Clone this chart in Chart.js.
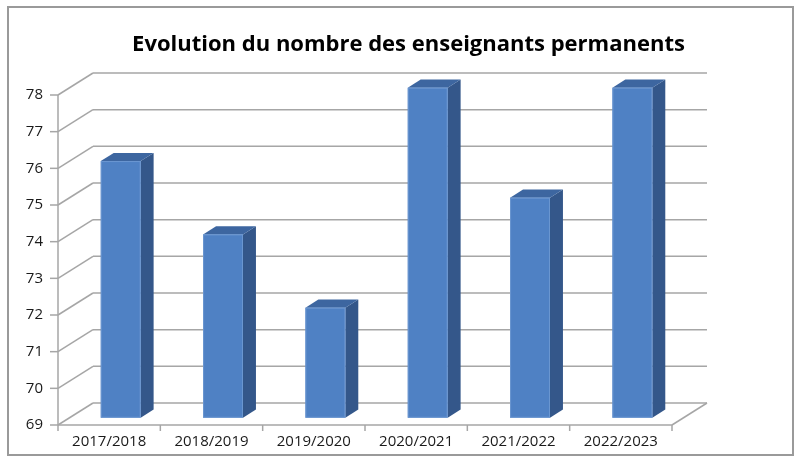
<!DOCTYPE html>
<html>
<head>
<meta charset="utf-8">
<script src="https://cdn.jsdelivr.net/npm/chart.js@4"></script>
<style>
  html, body { margin: 0; padding: 0; background: #fff; }
  #wrap { width: 809px; height: 469px; }
</style>
</head>
<body>
<div id="wrap"><canvas id="chart" width="809" height="469"></canvas></div>
<script>
// Data
const years = ['2017/2018', '2018/2019', '2019/2020', '2020/2021', '2021/2022', '2022/2023'];
const teachers = [76, 74, 72, 78, 75, 78];
const yMin = 69;
const yMax = 78;

// 3D look (Excel style)
const DX = 35, DY = -22;          // depth offset of the back wall
const BAR_F = 0.33, BAR_B = 0.70; // bar front/back as fraction of depth
const GRID = '#a6a6a6';

function line(ctx, x1, y1, x2, y2) {
  ctx.beginPath();
  ctx.moveTo(x1, y1);
  ctx.lineTo(x2, y2);
  ctx.stroke();
}

const frame3d = {
  id: 'frame3d',
  beforeDraw(chart) {
    const ctx = chart.ctx;
    const { left, right, top, bottom } = chart.chartArea;
    const y = chart.scales.y;
    const x = chart.scales.x;
    ctx.save();
    ctx.fillStyle = '#fff';
    ctx.fillRect(0, 0, chart.width, chart.height);
    // outer border
    ctx.strokeStyle = '#9a9a9a';
    ctx.lineWidth = 2;
    ctx.strokeRect(8, 7, 785, 448);

    ctx.strokeStyle = GRID;
    ctx.lineWidth = 1.5;
    y.ticks.forEach(t => {
      const py = y.getPixelForValue(t.value);
      // back wall line
      line(ctx, left + DX, py + DY, right + DX, py + DY);
      // side wall diagonal
      line(ctx, left, py, left + DX, py + DY);
      // tick mark
      line(ctx, left - 8, py, left, py);
    });
    // floor
    line(ctx, right, bottom, right + DX, bottom + DY);
    // axes
    line(ctx, left, top, left, bottom);
    line(ctx, left, bottom, right, bottom);
    // category ticks
    const step = x.getPixelForValue(1) - x.getPixelForValue(0);
    for (let i = 0; i <= years.length; i++) {
      const px = x.getPixelForValue(0) - step / 2 + i * step;
      line(ctx, px, bottom, px, bottom + 6);
    }
    ctx.restore();
  },
  afterDatasetsDraw(chart) {
    const ctx = chart.ctx;
    const meta = chart.getDatasetMeta(0);
    const floor = chart.scales.y.getPixelForValue(yMin);
    ctx.save();
    meta.data.forEach(bar => {
      const w = bar.width;
      const x0 = bar.x - w / 2 + DX * BAR_F;
      const x1 = x0 + w;
      const yt = bar.y + DY * BAR_F;
      const yb = floor + DY * BAR_F;
      const ox = DX * (BAR_B - BAR_F);
      const oy = DY * (BAR_B - BAR_F);
      // side
      ctx.fillStyle = '#34578a';
      ctx.beginPath();
      ctx.moveTo(x1, yt); ctx.lineTo(x1 + ox, yt + oy);
      ctx.lineTo(x1 + ox, yb + oy); ctx.lineTo(x1, yb);
      ctx.closePath(); ctx.fill();
      // top
      ctx.fillStyle = '#3d66a0';
      ctx.beginPath();
      ctx.moveTo(x0, yt); ctx.lineTo(x0 + ox, yt + oy);
      ctx.lineTo(x1 + ox, yt + oy); ctx.lineTo(x1, yt);
      ctx.closePath(); ctx.fill();
      // front
      ctx.fillStyle = '#4f81c4';
      ctx.fillRect(x0, yt, w, yb - yt);
      ctx.strokeStyle = '#6b96d0';
      ctx.lineWidth = 1;
      ctx.strokeRect(x0 + 0.5, yt + 0.5, w - 1, yb - yt - 1);
    });
    ctx.restore();
  }
};

new Chart(document.getElementById('chart'), {
  type: 'bar',
  data: {
    labels: years,
    datasets: [{
      label: 'Enseignants permanents',
      data: teachers,
      backgroundColor: 'rgba(0,0,0,0)',
      borderWidth: 0,
      categoryPercentage: 1,
      barPercentage: 0.39
    }]
  },
  options: {
    responsive: false,
    animation: false,
    layout: { padding: { left: 8, right: 0, top: 0, bottom: 14 } },
    plugins: {
      legend: { display: false },
      tooltip: { enabled: false },
      title: {
        display: true,
        text: 'Evolution du nombre des enseignants permanents',
        color: '#000',
        font: { family: 'Open Sans', size: 22, weight: 'bold' },
        padding: { top: 32, bottom: 36.6 }
      }
    },
    scales: {
      x: {
        grid: { display: false, drawTicks: false },
        border: { display: false },
        ticks: { color: '#1a1a1a', font: { family: 'Open Sans', size: 15 }, padding: 8, maxRotation: 0 },
        afterFit(s) { s.height = 30; }
      },
      y: {
        min: yMin,
        max: yMax,
        grid: { display: false, drawTicks: false },
        border: { display: false },
        ticks: { stepSize: 1, color: '#1a1a1a', font: { family: 'Open Sans', size: 15 }, padding: 15 },
        afterFit(s) { s.width = 50; }
      },
      // empty right side of the plot, room for the 3D depth
      side: {
        position: 'right',
        min: yMin,
        max: yMax,
        grid: { display: false, drawTicks: false },
        border: { display: false },
        ticks: { display: false },
        afterFit(s) { s.width = 137; }
      }
    }
  },
  plugins: [frame3d]
});
</script>
</body>
</html>
